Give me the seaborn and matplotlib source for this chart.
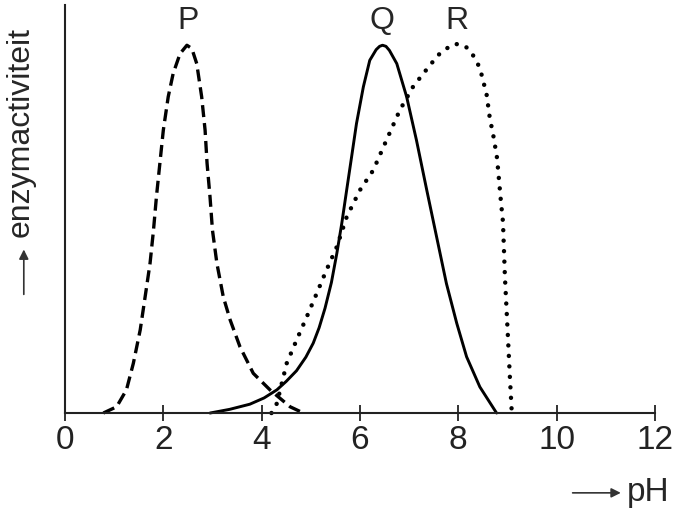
import seaborn as sns
import matplotlib.pyplot as plt

# enzyme activity curves (pH, relative activity)
P_ph = [0.78, 1.05, 1.25, 1.39, 1.53, 1.63, 1.73, 1.8, 1.86, 1.93, 2.0, 2.1, 2.2, 2.34, 2.48, 2.58,
        2.68, 2.78, 2.85, 2.89, 2.95, 3.0, 3.09, 3.22, 3.36, 3.56, 3.83, 4.17, 4.58, 4.85]
P_act = [0, 1.7, 6.3, 13.5, 22.6, 31.6, 40.7, 49.7, 58.8, 67.9, 76.9, 86, 92.3, 97.7, 100, 99.1,
         95, 86, 76.9, 67.9, 58.8, 49.7, 40.7, 31.6, 25.3, 18, 10.8, 6.3, 1.7, 0]

Q_ph = [2.95, 3.35, 3.76, 4.05, 4.31, 4.5, 4.71, 4.9, 5.05, 5.17, 5.29, 5.42, 5.53, 5.63, 5.73, 5.83, 5.93,
        6.07, 6.2, 6.33, 6.4, 6.46, 6.53, 6.6, 6.75, 6.95, 7.15, 7.36, 7.56, 7.76, 7.97, 8.17, 8.44, 8.78]
Q_act = [0, 1.0, 2.4, 4.1, 6.3, 8.6, 11.5, 15.2, 19.0, 23.2, 28.5, 35.5, 43.4, 51.5, 60.6, 69.6, 78.7,
         88.7, 95.9, 98.8, 99.7, 100, 99.7, 98.6, 95, 86, 74.2, 60.6, 47.9, 35.2, 24.4, 15.3, 7.1, 0]

R_ph = [4.2, 4.31, 4.51, 4.71, 4.92, 5.12, 5.32, 5.53, 5.73, 6.0, 6.27, 6.54, 6.81, 7.08, 7.29, 7.59,
        7.76, 7.94, 8.15, 8.3, 8.41, 8.48, 8.58, 8.64, 8.72, 8.79, 8.83, 8.87, 8.91, 8.95, 9.01, 9.05, 9.09]
R_act = [0, 2.6, 13.5, 19.8, 26.2, 32.5, 38.9, 45.2, 53.3, 60.6, 66, 74.2, 82.3, 88.7, 92.3, 97.3,
         99.1, 100.4, 99.7, 97.3, 94.6, 91.8, 86.4, 80.4, 75, 69.3, 63.3, 57.3, 52, 37, 21, 10, 0]

labels = ["P", "Q", "R"]
label_ph = [2.5, 6.45, 7.97]
ph_ticks = [0, 2, 4, 6, 8, 10, 12]

sns.set_style("ticks")
plt.rcParams['font.family'] = ['Liberation Sans', 'DejaVu Sans']

fig = plt.figure(figsize=(6.8, 5.15), dpi=100)
ax = fig.add_axes([0.0956, 0.198, 0.8674, 0.792])

sns.lineplot(x=P_ph, y=P_act, ax=ax, color="black")
sns.lineplot(x=Q_ph, y=Q_act, ax=ax, color="black")
sns.lineplot(x=R_ph, y=R_act, ax=ax, color="black")

# line styles: dashed P, solid Q, dotted R
lp, lq, lr = ax.lines[:3]
lp.set_linewidth(2.4)
lp.set_linestyle((0, (3.6, 1.8)))
lq.set_linewidth(2.1)
lr.set_linewidth(3.2)
lr.set_linestyle((0, (0.01, 2.35)))
lr.set_dash_capstyle("round")
for ln in (lp, lq, lr):
    ln.set_clip_on(False)

for lab, x in zip(labels, label_ph):
    ax.text(x, 106.5, lab, ha="center", va="center", fontsize=23)

ax.set_xlim(0, 12)
ax.set_ylim(0, 110.9)
ax.set_xticks(ph_ticks)
ax.set_xticklabels([str(t) for t in ph_ticks])
ax.set_yticks([])
ax.tick_params(axis="x", direction="inout", length=11, width=1.3, colors="#222",
               labelsize=24, pad=3)
sns.despine(ax=ax)
for s in ["left", "bottom"]:
    ax.spines[s].set_linewidth(1.5)
    ax.spines[s].set_color("#222")
ax.set_xlabel("")
ax.set_ylabel("")

# axis captions with arrows
fig.text(0.03, 0.744, "enzymactiviteit", rotation=90, ha="center", va="center", fontsize=23)
ax.annotate("", xy=(0.035, 0.521), xytext=(0.035, 0.423), xycoords="figure fraction",
            textcoords="figure fraction",
            arrowprops=dict(arrowstyle="-|>", lw=1.2, color="#333", mutation_scale=14))
fig.text(0.953, 0.043, "pH", ha="center", va="center", fontsize=24)
ax.annotate("", xy=(0.917, 0.043), xytext=(0.838, 0.043), xycoords="figure fraction",
            textcoords="figure fraction",
            arrowprops=dict(arrowstyle="-|>", lw=1.2, color="#333", mutation_scale=14))

plt.savefig("out.png", dpi=100)
